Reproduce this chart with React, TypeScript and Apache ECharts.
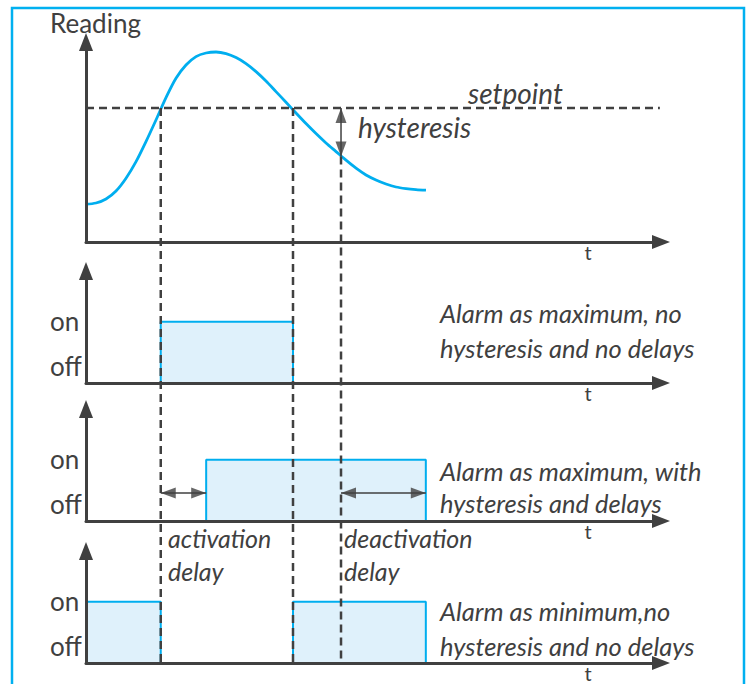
import React, { useEffect, useRef } from 'react';
import * as echarts from 'echarts';

// ---- data ----
// measured reading (top panel)
const readingT = [0, 1.74, 3.48, 5.22, 6.96, 8.70, 10.43, 12.17, 13.91, 15.65, 17.39, 19.13, 20.87, 22.61, 24.35, 26.09, 27.83, 29.57, 31.30, 33.04, 34.78, 36.52, 38.26, 40.0, 41.74, 43.48, 45.22, 46.96, 48.70, 50.43, 52.17, 53.91, 55.65, 57.39, 59.13];
const readingV = [18.9, 19.5, 21.5, 25.5, 31.9, 40.2, 50.2, 61.0, 72.2, 81.9, 88.5, 92.7, 94.5, 95.0, 94.2, 92.2, 89.2, 85.2, 80.5, 75.2, 69.9, 64.5, 59.2, 54.2, 49.5, 45.2, 40.9, 36.9, 33.5, 31.0, 29.0, 27.5, 26.7, 26.2, 25.9];

const setpoint = 67;
const hystLevel = 42.7;
const setpointEnd = 99.8;

// event times
const tOn = 13.0;          // reading rises through setpoint
const tActivate = 20.9;    // tOn + activation delay
const tOff = 36.0;         // reading falls through setpoint
const tHyst = 44.35;       // reading reaches setpoint - hysteresis
const tDeactivate = 59.1;  // tHyst + deactivation delay

const onLevel = 1;
const offLevel = 0;
const delayArrowLevel = 0.457;

// alarm states (t, state)
const alarmMaxT = [tOn, tOn, tOff, tOff];
const alarmMaxV = [offLevel, onLevel, onLevel, offLevel];
const alarmHystT = [tActivate, tActivate, tDeactivate, tDeactivate];
const alarmHystV = [offLevel, onLevel, onLevel, offLevel];
const alarmMinAT = [0, 0, tOn, tOn];
const alarmMinAV = [offLevel, onLevel, onLevel, offLevel];
const alarmMinBT = [tOff, tOff, tDeactivate, tDeactivate];
const alarmMinBV = [offLevel, onLevel, onLevel, offLevel];

const stateLabels = ['on', 'off'];
const timeLabel = 't';
const readingLabel = 'Reading';
const panelNotes = [
  ['Alarm as maximum, no', 'hysteresis and no delays'],
  ['Alarm as maximum, with', 'hysteresis and delays'],
  ['Alarm as minimum,no', 'hysteresis and no delays'],
];
const delayLabels = [['activation', 'delay'], ['deactivation', 'delay']];
const curveLabels = ['setpoint', 'hysteresis'];

// ---- styles ----
const DARK = '#404040';
const BLUE = '#00aeef';
const FILL = '#dff1fb';
const FONT = 'Lato';

const zip = (a: number[], b: number[]) => a.map((v, i) => [v, b[i]]);

export default function App() {
  const ref = useRef<HTMLDivElement>(null);
  useEffect(() => {
    document.body.style.margin = '0';
    if (!ref.current) return;
    const chart = echarts.init(ref.current, undefined, { renderer: 'svg' });

    const gridTops = [42, 271, 409, 551];
    const gridHeights = [200, 112, 112, 112];
    const grids: any[] = gridTops.map((top, i) => ({ left: 86, top, width: 575, height: gridHeights[i] }));
    grids.push({ left: 86, top: 42, width: 575, height: 621 });

    const axisLine = {
      show: true,
      onZero: false,
      symbol: ['none', 'triangle'],
      symbolSize: [14, 18],
      lineStyle: { color: DARK, width: 3 },
    };
    const xAxes = grids.map((_, i) => ({
      type: 'value', gridIndex: i, min: 0, max: 100, z: 4,
      show: i < 4,
      axisLine, axisTick: { show: false }, axisLabel: { show: false }, splitLine: { show: false },
    }));
    const yAxes = grids.map((_, i) => ({
      type: 'value', gridIndex: i,
      min: i === 0 ? 0 : i < 4 ? 0 : -210.5,
      max: i === 0 ? 100 : i < 4 ? 1.83 : 100,
      z: 4,
      show: i < 4,
      axisLine, axisTick: { show: false }, axisLabel: { show: false }, splitLine: { show: false },
    }));

    const rect = (idx: number, t: number[], v: number[]) => ({
      type: 'line', xAxisIndex: idx, yAxisIndex: idx, data: zip(t, v), symbol: 'none', clip: false,
      lineStyle: { color: BLUE, width: 2 }, areaStyle: { color: FILL, opacity: 1 }, z: 2, silent: true,
    });
    const seg = (idx: number, data: number[][], dashed: boolean) => ({
      type: 'line', xAxisIndex: idx, yAxisIndex: idx, data, symbol: 'none', clip: false, silent: true, z: 3,
      lineStyle: dashed ? { color: DARK, width: 2.5, type: [8, 5] } : { color: DARK, width: 1.5, type: 'solid' },
    });
    // arrow heads: rotation in degrees (0 = up), tip placed on the data point
    const head = (t: number, v: number, dir: 'up' | 'down' | 'left' | 'right') => {
      const rot = { up: 0, down: 180, left: 90, right: -90 }[dir];
      const off = { up: [0, 7.5], down: [0, -7.5], left: [7.5, 0], right: [-7.5, 0] }[dir];
      return { value: [t, v], symbolRotate: rot, symbolOffset: off };
    };
    const heads = (idx: number, data: any[]) => ({
      type: 'scatter', xAxisIndex: idx, yAxisIndex: idx, data, symbol: 'triangle', symbolSize: [11, 15],
      itemStyle: { color: DARK }, clip: false, silent: true, z: 5,
    });

    const series: any[] = [
      {
        type: 'line', xAxisIndex: 0, yAxisIndex: 0, data: zip(readingT, readingV), smooth: 0.3,
        symbol: 'none', clip: false, silent: true, z: 3,
        lineStyle: { color: BLUE, width: 2.8 },
      },
      seg(0, [[0, setpoint], [setpointEnd, setpoint]], true),
      seg(0, [[tHyst, setpoint], [tHyst, hystLevel]], false),
      heads(0, [head(tHyst, setpoint, 'up'), head(tHyst, hystLevel, 'down')]),
      rect(1, alarmMaxT, alarmMaxV),
      rect(2, alarmHystT, alarmHystV),
      seg(2, [[tOn, delayArrowLevel], [tActivate, delayArrowLevel]], false),
      seg(2, [[tHyst, delayArrowLevel], [tDeactivate, delayArrowLevel]], false),
      heads(2, [
        head(tOn, delayArrowLevel, 'left'), head(tActivate, delayArrowLevel, 'right'),
        head(tHyst, delayArrowLevel, 'left'), head(tDeactivate, delayArrowLevel, 'right'),
      ]),
      rect(3, alarmMinAT, alarmMinAV),
      rect(3, alarmMinBT, alarmMinBV),
      seg(4, [[tOn, setpoint], [tOn, -210.5]], true),
      seg(4, [[tOff, setpoint], [tOff, -210.5]], true),
      seg(4, [[tHyst, hystLevel], [tHyst, -210.5]], true),
    ];

    const txt = (text: string, x: number, y: number, size: number, italic = false, align = 'left') => ({
      type: 'text', x, y, silent: true, z: 10,
      style: { text, fontSize: size, fontFamily: FONT, fontStyle: italic ? 'italic' : 'normal', fill: DARK, align, verticalAlign: 'middle' },
    });

    const axisYs = [242, 383, 521, 663];
    const elements: any[] = [
      { type: 'rect', shape: { x: 12, y: 8, width: 732, height: 700 }, style: { fill: 'none', stroke: '#00b0f0', lineWidth: 2.5 }, silent: true, z: 1 },
      txt(readingLabel, 50, 23, 26),
      txt(curveLabels[0], 468, 93, 28, true),
      txt(curveLabels[1], 358, 127, 28, true),
    ];
    axisYs.forEach((ay, i) => {
      elements.push(txt(timeLabel, 588, ay + 10, 20, false, 'center'));
      if (i > 0) {
        elements.push(txt(stateLabels[0], 50, ay - 62, 26));
        elements.push(txt(stateLabels[1], 50, ay - 17, 26));
      }
    });
    const noteYs = [[313, 348], [471, 503], [611, 646]];
    panelNotes.forEach((lines, i) => {
      lines.forEach((l, j) => elements.push(txt(l, 440, noteYs[i][j], 25.5, true)));
    });
    elements.push(txt(delayLabels[0][0], 168, 538, 25, true));
    elements.push(txt(delayLabels[0][1], 168, 571, 25, true));
    elements.push(txt(delayLabels[1][0], 344, 538, 25, true));
    elements.push(txt(delayLabels[1][1], 344, 571, 25, true));

    chart.setOption({
      animation: false,
      backgroundColor: '#ffffff',
      grid: grids,
      xAxis: xAxes,
      yAxis: yAxes,
      series,
      graphic: { elements },
    });
    return () => chart.dispose();
  }, []);
  return <div ref={ref} style={{ width: 750, height: 684 }} />;
}
